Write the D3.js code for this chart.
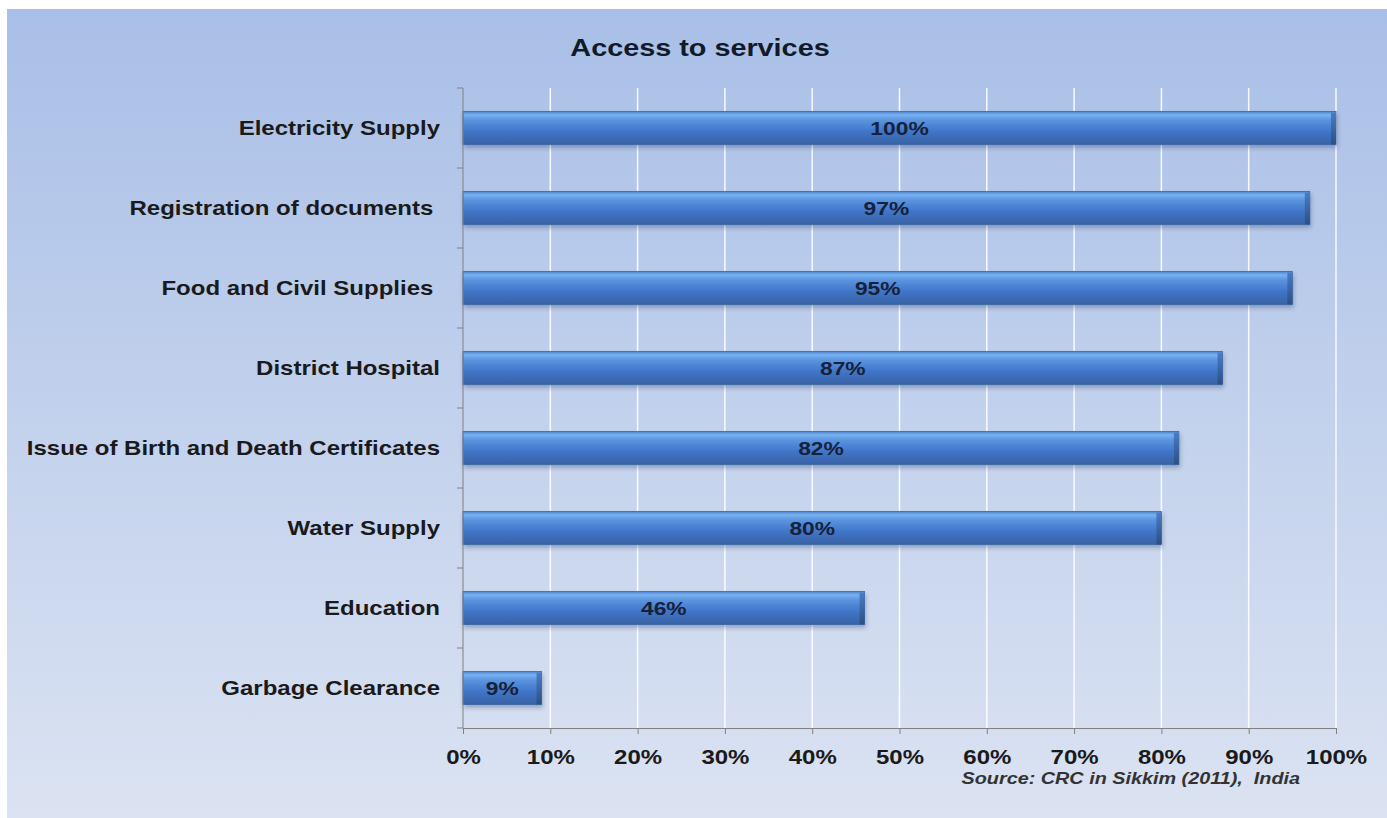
<!DOCTYPE html>
<html>
<head>
<meta charset="utf-8">
<script src="https://cdn.jsdelivr.net/npm/d3@7"></script>
<style>
  body { margin: 0; background: #fff; }
  text { font-family: "Liberation Sans", Arial, sans-serif; }
</style>
</head>
<body>
<script>
const categories = ["Electricity Supply", "Registration of documents ", "Food and Civil Supplies ", "District Hospital",
  "Issue of Birth and Death Certificates", "Water Supply", "Education", "Garbage Clearance"];
const values = [100, 97, 95, 87, 82, 80, 46, 9];
const ticks = [0, 10, 20, 30, 40, 50, 60, 70, 80, 90, 100];

const W = 1387, H = 818;
const SX = 1.2; // the original text looks horizontally stretched
const svg = d3.select("body").append("svg").attr("width", W).attr("height", H);
const defs = svg.append("defs");

// background panel
const bg = defs.append("linearGradient").attr("id", "bg").attr("x1", 0).attr("y1", 0).attr("x2", 0).attr("y2", 1);
bg.append("stop").attr("offset", "0%").attr("stop-color", "#a9bfe7");
bg.append("stop").attr("offset", "100%").attr("stop-color", "#dbe3f2");
svg.append("rect").attr("x", 7).attr("y", 9).attr("width", W - 7).attr("height", H - 9).attr("fill", "url(#bg)");

// bar gradient
const bar = defs.append("linearGradient").attr("id", "bar").attr("x1", 0).attr("y1", 0).attr("x2", 0).attr("y2", 1);
bar.append("stop").attr("offset", "0%").attr("stop-color", "#4c84d2");
bar.append("stop").attr("offset", "10%").attr("stop-color", "#79b2ef");
bar.append("stop").attr("offset", "25%").attr("stop-color", "#5a95e0");
bar.append("stop").attr("offset", "60%").attr("stop-color", "#4076c8");
bar.append("stop").attr("offset", "100%").attr("stop-color", "#3862a5");

const endG = defs.append("linearGradient").attr("id", "endcap").attr("x1", 0).attr("y1", 0).attr("x2", 0).attr("y2", 1);
endG.append("stop").attr("offset", "0%").attr("stop-color", "#4a7cc4");
endG.append("stop").attr("offset", "100%").attr("stop-color", "#2c4f86");

const shadow = defs.append("filter").attr("id", "shadow").attr("x", "-5%").attr("y", "-20%").attr("width", "110%").attr("height", "160%");
shadow.append("feDropShadow").attr("dx", 1).attr("dy", 3).attr("stdDeviation", 2).attr("flood-color", "#2a3a5a").attr("flood-opacity", 0.35);

const x = d3.scaleLinear().domain([0, 100]).range([463, 1336]);
const y = d3.scaleBand().domain(categories).range([88, 728]).paddingInner(0.59).paddingOuter(0.295);
const yTick = d3.scaleBand().domain(categories).range([88, 728]);

// text drawn at (px,py) and stretched sideways around its anchor
function stretched(sel, px, py) {
  return sel.attr("x", 0).attr("y", 0)
    .attr("transform", (d, i) => `translate(${px(d, i)},${py(d, i)}) scale(${SX},1)`);
}

// gridlines
svg.append("g").selectAll("line").data(ticks.slice(1)).join("line")
  .attr("x1", d => x(d)).attr("x2", d => x(d))
  .attr("y1", 88).attr("y2", 728)
  .attr("stroke", "#ffffff").attr("stroke-width", 1.5).attr("opacity", 0.9);

// title
svg.append("text").attr("text-anchor", "middle")
  .attr("font-size", 24).attr("font-weight", "bold").attr("fill", "#111a2a").text("Access to services")
  .call(s => stretched(s, () => 700, () => 56));

// bars
const bars = svg.append("g").selectAll("g").data(categories).join("g");
bars.append("rect")
  .attr("x", x(0)).attr("y", d => y(d))
  .attr("width", (d, i) => x(values[i]) - x(0)).attr("height", y.bandwidth())
  .attr("fill", "url(#bar)").attr("stroke", "#3a64a3").attr("stroke-width", 0.8)
  .attr("filter", "url(#shadow)");
bars.append("rect")
  .attr("x", (d, i) => x(values[i]) - 5).attr("y", d => y(d) + 1)
  .attr("width", 5).attr("height", y.bandwidth() - 1)
  .attr("fill", "url(#endcap)");
bars.append("text")
  .attr("text-anchor", "middle").attr("font-size", 19).attr("font-weight", "bold").attr("fill", "#17213a")
  .text((d, i) => values[i] + "%")
  .call(s => stretched(s, (d, i) => (x(0) + x(values[i])) / 2, d => y(d) + y.bandwidth() / 2 + 7));

// axes
const yAxis = d3.axisLeft(yTick).tickSize(0).tickFormat("");
const yg = svg.append("g").attr("transform", `translate(${x(0)},0)`).call(yAxis);
yg.select(".domain").attr("stroke", "#808080").attr("d", "M0,88V728");
// y boundary ticks between categories
svg.append("g").selectAll("line").data(d3.range(categories.length + 1)).join("line")
  .attr("x1", x(0) - 6).attr("x2", x(0))
  .attr("y1", i => 88 + i * yTick.step()).attr("y2", i => 88 + i * yTick.step())
  .attr("stroke", "#808080");

const xAxis = d3.axisBottom(x).tickValues(ticks).tickFormat(d => d + "%").tickSize(6).tickSizeOuter(0);
const xg = svg.append("g").attr("transform", "translate(0,728)").call(xAxis);
xg.select(".domain").attr("stroke", "#808080");
xg.selectAll(".tick line").attr("stroke", "#808080");
xg.selectAll(".tick text").attr("font-size", 20).attr("font-weight", "bold").attr("fill", "#1a1a1a")
  .attr("dy", 0).attr("x", 0).attr("y", 0).attr("transform", `translate(0,36) scale(${SX},1)`)
  .style("font-family", "'Liberation Sans', Arial, sans-serif");

// category labels
svg.append("g").selectAll("text").data(categories).join("text")
  .attr("text-anchor", "end").attr("font-size", 20).attr("font-weight", "bold").attr("fill", "#1a1a1a")
  .attr("xml:space", "preserve").style("white-space", "pre")
  .text(d => d)
  .call(s => stretched(s, () => 440, d => yTick(d) + yTick.bandwidth() / 2 + 7));

// source
svg.append("text").attr("text-anchor", "end")
  .attr("font-size", 16.5).attr("font-weight", "bold").attr("font-style", "italic").attr("fill", "#333")
  .attr("xml:space", "preserve").style("white-space", "pre")
  .text("Source: CRC in Sikkim (2011),  India")
  .call(s => stretched(s, () => 1300, () => 784));
</script>
</body>
</html>
